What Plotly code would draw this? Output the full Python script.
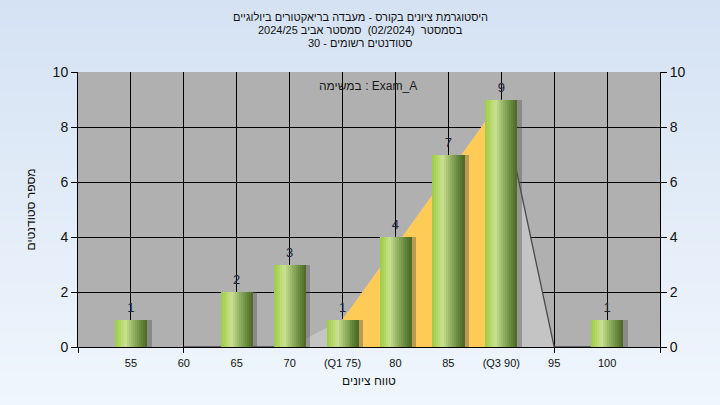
import plotly.graph_objects as go
import numpy as np

# ---------------- data ----------------
categories = [55, 60, 65, 70, 75, 80, 85, 90, 95, 100]
tick_labels = ["55", "60", "65", "70", "(Q1 75)", "80", "85", "(Q3 90)", "95", "100"]
counts = [1, 0, 2, 3, 1, 4, 7, 9, 0, 1]
curve_x = [60, 70, 75, 90, 95, 100]
curve_y = [0, 0, 1, 9, 0, 0]
q1_x, q1_y = 75, 1
q3_x, q3_y = 90, 9
y_ticks = [0, 2, 4, 6, 8, 10]

title_lines = [
    "היסטוגרמת ציונים בקורס - מעבדה בריאקטורים ביולוגיים",
    "בסמסטר  (02/2024)  סמסטר אביב 2024/25",
    "סטודנטים רשומים - 30",
]
task_label = "במשימה : Exam_A"
x_title = "טווח ציונים"
y_title = "מספר סטודנטים"

FONT = "Liberation Sans Narrow, Arial Narrow, Liberation Sans, Arial, sans-serif"

W, H = 720, 405
ML, MR, MT, MB = 78, 60, 72, 58
PW, PH = W - ML - MR, H - MT - MB

fig = go.Figure()

# ---- main subplot (x, y): distribution areas ----
fig.add_trace(go.Scatter(
    x=curve_x, y=curve_y, mode="lines", fill="tozeroy",
    fillcolor="#c4c4c4", line=dict(color="rgba(0,0,0,0)", width=0),
    hoverinfo="skip", showlegend=False))
fig.add_trace(go.Scatter(
    x=[q1_x, q3_x], y=[q1_y, q3_y], mode="lines", fill="tozeroy",
    fillcolor="#ffcb57", line=dict(color="rgba(0,0,0,0)", width=0),
    hoverinfo="skip", showlegend=False))
seg_x = [curve_x[0], curve_x[1], None, curve_x[3], curve_x[4], curve_x[5]]
seg_y = [curve_y[0], curve_y[1], None, curve_y[3], curve_y[4], curve_y[5]]
fig.add_trace(go.Scatter(
    x=seg_x, y=seg_y, mode="lines", line=dict(color="#4a4a4a", width=1.3),
    hoverinfo="skip", showlegend=False))

# ---- overlay subplot (x3, y3): bars drawn above areas ----
BAR_W = 3.0
fig.add_trace(go.Bar(
    x=categories, y=counts, width=BAR_W, offset=-BAR_W / 2 + 0.45,
    xaxis="x3", yaxis="y3",
    marker=dict(color="rgba(80,80,80,0.4)", line=dict(width=0)),
    hoverinfo="skip", showlegend=False))

stops = [(0.0, (158, 201, 70)), (0.12, (172, 212, 92)), (0.33, (202, 226, 145)),
         (0.55, (152, 182, 102)), (0.8, (104, 138, 62)), (1.0, (76, 102, 36))]

def grad(t):
    for (t0, c0), (t1, c1) in zip(stops[:-1], stops[1:]):
        if t0 <= t <= t1:
            f = (t - t0) / (t1 - t0)
            return "rgb(%d,%d,%d)" % tuple(round(a + (b - a) * f) for a, b in zip(c0, c1))
    return "rgb(%d,%d,%d)" % stops[-1][1]

N = 16
sw = BAR_W / N
for i in range(N):
    t = (i + 0.5) / N
    fig.add_trace(go.Bar(
        x=categories, y=counts, width=sw * 1.15, offset=-BAR_W / 2 + i * sw,
        xaxis="x3", yaxis="y3",
        marker=dict(color=grad(t), line=dict(width=0)),
        hoverinfo="skip", showlegend=False))

lab_x = [c for c, v in zip(categories, counts) if v > 0]
lab_y = [v for v in counts if v > 0]
fig.add_trace(go.Scatter(
    x=lab_x, y=lab_y, mode="markers+text", text=[str(v) for v in lab_y],
    xaxis="x3", yaxis="y3",
    textposition="top center", marker=dict(size=6, opacity=0),
    textfont=dict(family=FONT, size=13, color="#1c2438"),
    hoverinfo="skip", showlegend=False, cliponaxis=False))

# invisible traces for the right axis and the tick-mark axis
fig.add_trace(go.Scatter(x=[categories[0]], y=[0], yaxis="y2", mode="markers",
                         marker=dict(opacity=0), hoverinfo="skip", showlegend=False))
fig.add_trace(go.Scatter(x=[categories[0]], y=[0], xaxis="x2", mode="markers",
                         marker=dict(opacity=0), hoverinfo="skip", showlegend=False))

# background gradient stripes (paper)
shapes = []
NS = 40
top_c = np.array([213, 226, 243])
bot_c = np.array([239, 246, 253])
x0p, x1p = -ML / PW, 1 + MR / PW
for i in range(NS):
    f = i / (NS - 1)
    c = top_c + (bot_c - top_c) * f
    ya = 1 + MT / PH - (H / PH) * i / NS
    yb = 1 + MT / PH - (H / PH) * (i + 1) / NS
    shapes.append(dict(type="rect", xref="paper", yref="paper", x0=x0p, x1=x1p,
                       y0=yb - 0.002, y1=ya + 0.002, layer="below",
                       fillcolor="rgb(%d,%d,%d)" % tuple(c.round().astype(int)),
                       line=dict(width=0)))
shapes.append(dict(type="rect", xref="paper", yref="paper", x0=0, x1=1, y0=0, y1=1,
                   layer="below", fillcolor="#b0b0b0", line=dict(width=0)))

annotations = []
title_ys = [17, 30, 43]
cx = (360 - ML) / PW
for txt, yp in zip(title_lines, title_ys):
    annotations.append(dict(text=txt, xref="paper", yref="paper", x=cx,
                            y=1 + (MT - yp) / PH, showarrow=False,
                            xanchor="center", yanchor="middle",
                            font=dict(family=FONT, size=11, color="#111111")))
annotations.append(dict(text=task_label, xref="paper", yref="paper",
                        x=(368 - ML) / PW, y=(347 - 86) / PH, showarrow=False,
                        xanchor="center", yanchor="middle",
                        font=dict(family=FONT, size=12, color="#1a1a1a")))

fig.update_layout(
    width=W, height=H, margin=dict(l=ML, r=MR, t=MT, b=MB),
    paper_bgcolor="#e2ecf8", plot_bgcolor="#b0b0b0",
    barmode="overlay", bargap=0, showlegend=False,
    shapes=shapes, annotations=annotations,
    font=dict(family=FONT, color="#111111"),
    xaxis=dict(range=[50, 105], tickvals=categories, ticktext=tick_labels,
               showgrid=True, gridcolor="#000000", gridwidth=1,
               showline=True, linecolor="#000000", linewidth=1,
               ticks="", zeroline=False, automargin=False, ticklabelstandoff=6,
               tickfont=dict(family=FONT, size=11, color="#111111"),
               title=dict(text=x_title, font=dict(family=FONT, size=12, color="#111111"),
                          standoff=8),
               fixedrange=True),
    xaxis2=dict(range=[50, 105], overlaying="x", tickvals=[50, 60, 95, 105],
                showticklabels=False, ticks="outside", ticklen=5, tickcolor="#000000",
                showgrid=False, zeroline=False, showline=False, side="bottom",
                automargin=False, fixedrange=True),
    xaxis3=dict(range=[50, 105], overlaying="x", visible=False, automargin=False,
                fixedrange=True),
    yaxis=dict(range=[0, 10], tickvals=y_ticks, showgrid=True, gridcolor="#000000",
               gridwidth=1, showline=True, linecolor="#000000", linewidth=1,
               ticks="outside", ticklen=6, tickcolor="#000000", zeroline=False,
               automargin=False,
               tickfont=dict(family=FONT, size=14, color="#111111"),
               title=dict(text=y_title, font=dict(family=FONT, size=12, color="#111111"),
                          standoff=14),
               fixedrange=True),
    yaxis2=dict(range=[0, 10], tickvals=y_ticks, overlaying="y", side="right",
                showgrid=False, showline=True, linecolor="#000000", linewidth=1,
                ticks="outside", ticklen=6, tickcolor="#000000", zeroline=False,
                automargin=False,
                tickfont=dict(family=FONT, size=14, color="#111111"),
                fixedrange=True),
    yaxis3=dict(range=[0, 10], overlaying="y", visible=False, automargin=False,
                fixedrange=True),
)

fig.write_html("out.html", config={"displayModeBar": False},
               post_script="document.body.style.margin='0';")
